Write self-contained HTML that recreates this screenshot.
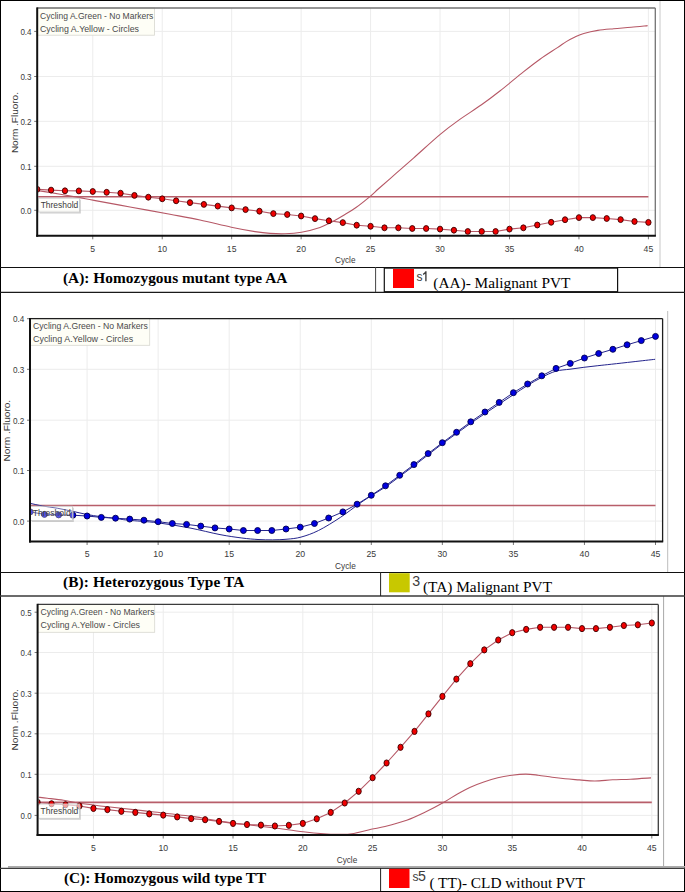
<!DOCTYPE html>
<html><head><meta charset="utf-8"><title>qPCR amplification curves</title>
<style>html,body{margin:0;padding:0;background:#fff;}body{width:685px;height:892px;overflow:hidden;font-family:"Liberation Sans",sans-serif;}svg{display:block;}</style>
</head><body>
<svg width="685" height="892" viewBox="0 0 685 892" font-family="Liberation Sans, sans-serif">
<clipPath id="ca"><rect x="38.2" y="8" width="617.0999999999999" height="226.8"/></clipPath>
<line x1="660" y1="1" x2="660" y2="267" stroke="#c8c8c8" stroke-width="1"/>
<line x1="92.76" y1="8" x2="92.76" y2="235.8" stroke="#ececec" stroke-width="1"/>
<line x1="162.22" y1="8" x2="162.22" y2="235.8" stroke="#ececec" stroke-width="1"/>
<line x1="231.67" y1="8" x2="231.67" y2="235.8" stroke="#ececec" stroke-width="1"/>
<line x1="301.13" y1="8" x2="301.13" y2="235.8" stroke="#ececec" stroke-width="1"/>
<line x1="370.58" y1="8" x2="370.58" y2="235.8" stroke="#ececec" stroke-width="1"/>
<line x1="440.04" y1="8" x2="440.04" y2="235.8" stroke="#ececec" stroke-width="1"/>
<line x1="509.49" y1="8" x2="509.49" y2="235.8" stroke="#ececec" stroke-width="1"/>
<line x1="578.95" y1="8" x2="578.95" y2="235.8" stroke="#ececec" stroke-width="1"/>
<line x1="648.40" y1="8" x2="648.40" y2="235.8" stroke="#ececec" stroke-width="1"/>
<line x1="37.2" y1="210.30" x2="655.3" y2="210.30" stroke="#ececec" stroke-width="1"/>
<line x1="37.2" y1="166.30" x2="655.3" y2="166.30" stroke="#ececec" stroke-width="1"/>
<line x1="37.2" y1="121.35" x2="655.3" y2="121.35" stroke="#ececec" stroke-width="1"/>
<line x1="37.2" y1="76.50" x2="655.3" y2="76.50" stroke="#ececec" stroke-width="1"/>
<line x1="37.2" y1="31.40" x2="655.3" y2="31.40" stroke="#ececec" stroke-width="1"/>
<line x1="34.2" y1="210.30" x2="37.2" y2="210.30" stroke="#777" stroke-width="1"/>
<text x="31.6" y="213.70" text-anchor="end" font-size="9.9" textLength="11.2" lengthAdjust="spacingAndGlyphs" fill="#3a3a3a">0.0</text>
<line x1="34.2" y1="166.30" x2="37.2" y2="166.30" stroke="#777" stroke-width="1"/>
<text x="31.6" y="169.70" text-anchor="end" font-size="9.9" textLength="11.2" lengthAdjust="spacingAndGlyphs" fill="#3a3a3a">0.1</text>
<line x1="34.2" y1="121.35" x2="37.2" y2="121.35" stroke="#777" stroke-width="1"/>
<text x="31.6" y="124.75" text-anchor="end" font-size="9.9" textLength="11.2" lengthAdjust="spacingAndGlyphs" fill="#3a3a3a">0.2</text>
<line x1="34.2" y1="76.50" x2="37.2" y2="76.50" stroke="#777" stroke-width="1"/>
<text x="31.6" y="79.90" text-anchor="end" font-size="9.9" textLength="11.2" lengthAdjust="spacingAndGlyphs" fill="#3a3a3a">0.3</text>
<line x1="34.2" y1="31.40" x2="37.2" y2="31.40" stroke="#777" stroke-width="1"/>
<text x="31.6" y="34.80" text-anchor="end" font-size="9.9" textLength="11.2" lengthAdjust="spacingAndGlyphs" fill="#3a3a3a">0.4</text>
<line x1="92.76" y1="235.8" x2="92.76" y2="239.3" stroke="#777" stroke-width="1"/>
<text x="92.76" y="252.2" text-anchor="middle" font-size="9.9" textLength="4.80" lengthAdjust="spacingAndGlyphs" fill="#3a3a3a">5</text>
<line x1="162.22" y1="235.8" x2="162.22" y2="239.3" stroke="#777" stroke-width="1"/>
<text x="162.22" y="252.2" text-anchor="middle" font-size="9.9" textLength="9.60" lengthAdjust="spacingAndGlyphs" fill="#3a3a3a">10</text>
<line x1="231.67" y1="235.8" x2="231.67" y2="239.3" stroke="#777" stroke-width="1"/>
<text x="231.67" y="252.2" text-anchor="middle" font-size="9.9" textLength="9.60" lengthAdjust="spacingAndGlyphs" fill="#3a3a3a">15</text>
<line x1="301.13" y1="235.8" x2="301.13" y2="239.3" stroke="#777" stroke-width="1"/>
<text x="301.13" y="252.2" text-anchor="middle" font-size="9.9" textLength="9.60" lengthAdjust="spacingAndGlyphs" fill="#3a3a3a">20</text>
<line x1="370.58" y1="235.8" x2="370.58" y2="239.3" stroke="#777" stroke-width="1"/>
<text x="370.58" y="252.2" text-anchor="middle" font-size="9.9" textLength="9.60" lengthAdjust="spacingAndGlyphs" fill="#3a3a3a">25</text>
<line x1="440.04" y1="235.8" x2="440.04" y2="239.3" stroke="#777" stroke-width="1"/>
<text x="440.04" y="252.2" text-anchor="middle" font-size="9.9" textLength="9.60" lengthAdjust="spacingAndGlyphs" fill="#3a3a3a">30</text>
<line x1="509.49" y1="235.8" x2="509.49" y2="239.3" stroke="#777" stroke-width="1"/>
<text x="509.49" y="252.2" text-anchor="middle" font-size="9.9" textLength="9.60" lengthAdjust="spacingAndGlyphs" fill="#3a3a3a">35</text>
<line x1="578.95" y1="235.8" x2="578.95" y2="239.3" stroke="#777" stroke-width="1"/>
<text x="578.95" y="252.2" text-anchor="middle" font-size="9.9" textLength="9.60" lengthAdjust="spacingAndGlyphs" fill="#3a3a3a">40</text>
<line x1="648.40" y1="235.8" x2="648.40" y2="239.3" stroke="#777" stroke-width="1"/>
<text x="648.40" y="252.2" text-anchor="middle" font-size="9.9" textLength="9.60" lengthAdjust="spacingAndGlyphs" fill="#3a3a3a">45</text>
<text x="335" y="263.3" font-size="9.9" textLength="20.50" lengthAdjust="spacingAndGlyphs" fill="#3a3a3a">Cycle</text>
<text transform="translate(18.1,122.6) rotate(-90)" text-anchor="middle" font-size="9.6" textLength="61.00" lengthAdjust="spacingAndGlyphs" fill="#3a3a3a">Norm .Fluoro.</text>
<g clip-path="url(#ca)">
<line x1="37.2" y1="196.8" x2="648.40" y2="196.8" stroke="#b85e6a" stroke-width="1.6"/>
<path d="M37.50,190.50 C41.30,191.12 53.30,193.02 60.30,194.20 C67.30,195.38 73.88,196.57 79.50,197.60 C85.12,198.63 85.58,198.83 94.00,200.40 C102.42,201.97 117.33,204.68 130.00,207.00 C142.67,209.32 158.33,212.13 170.00,214.30 C181.67,216.47 189.78,217.85 200.00,220.00 C210.22,222.15 222.13,225.27 231.30,227.20 C240.47,229.13 248.55,230.57 255.00,231.60 C261.45,232.63 265.00,233.03 270.00,233.40 C275.00,233.77 279.77,234.00 285.00,233.80 C290.23,233.60 295.57,233.27 301.40,232.20 C307.23,231.13 314.92,229.12 320.00,227.40 C325.08,225.68 327.73,224.05 331.90,221.90 C336.07,219.75 340.98,216.90 345.00,214.50 C349.02,212.10 351.80,210.53 356.00,207.50 C360.20,204.47 366.40,199.47 370.20,196.30 C374.00,193.13 374.45,192.35 378.80,188.50 C383.15,184.65 390.47,178.32 396.30,173.20 C402.13,168.08 406.53,164.23 413.80,157.80 C421.07,151.37 432.52,140.80 439.90,134.60 C447.28,128.40 451.17,125.57 458.10,120.60 C465.03,115.63 474.48,109.77 481.50,104.80 C488.52,99.83 493.22,96.28 500.20,90.80 C507.18,85.32 516.77,77.17 523.40,71.90 C530.03,66.63 534.32,63.25 540.00,59.20 C545.68,55.15 553.12,50.53 557.50,47.60 C561.88,44.67 563.38,43.37 566.30,41.60 C569.22,39.83 572.08,38.35 575.00,37.00 C577.92,35.65 580.00,34.60 583.80,33.50 C587.60,32.40 592.83,31.20 597.80,30.40 C602.77,29.60 608.05,29.22 613.60,28.70 C619.15,28.18 625.43,27.82 631.10,27.30 C636.77,26.78 644.85,25.88 647.60,25.60" fill="none" stroke="#b65866" stroke-width="1.1" stroke-linejoin="round"/>
<path d="M37.20,189.30 L51.09,190.10 L64.98,190.80 L78.87,190.90 L92.76,191.50 L106.65,192.30 L120.55,193.20 L134.44,195.40 L148.33,197.20 L162.22,198.80 L176.11,200.80 L190.00,202.60 L203.89,204.40 L217.78,206.10 L231.67,207.90 L245.56,209.60 L259.45,211.20 L273.35,213.60 L287.24,214.50 L301.13,216.00 L315.02,218.60 L328.91,220.80 L342.80,222.60 L356.69,225.20 L370.58,226.30 L384.47,227.80 L398.36,227.80 L412.25,228.50 L426.15,228.50 L440.04,229.10 L453.93,230.20 L467.82,231.50 L481.71,231.50 L495.60,231.50 L509.49,229.10 L523.38,227.80 L537.27,225.00 L551.16,222.30 L565.05,219.70 L578.95,217.60 L592.84,217.60 L606.73,218.50 L620.62,219.60 L634.51,221.50 L648.40,222.40" fill="none" stroke="#b65866" stroke-width="1.1" stroke-linejoin="round"/>
<ellipse cx="37.20" cy="189.30" rx="2.65" ry="2.95" fill="#f00000" stroke="#3a0000" stroke-width="0.9"/>
<ellipse cx="51.09" cy="190.10" rx="2.65" ry="2.95" fill="#f00000" stroke="#3a0000" stroke-width="0.9"/>
<ellipse cx="64.98" cy="190.80" rx="2.65" ry="2.95" fill="#f00000" stroke="#3a0000" stroke-width="0.9"/>
<ellipse cx="78.87" cy="190.90" rx="2.65" ry="2.95" fill="#f00000" stroke="#3a0000" stroke-width="0.9"/>
<ellipse cx="92.76" cy="191.50" rx="2.65" ry="2.95" fill="#f00000" stroke="#3a0000" stroke-width="0.9"/>
<ellipse cx="106.65" cy="192.30" rx="2.65" ry="2.95" fill="#f00000" stroke="#3a0000" stroke-width="0.9"/>
<ellipse cx="120.55" cy="193.20" rx="2.65" ry="2.95" fill="#f00000" stroke="#3a0000" stroke-width="0.9"/>
<ellipse cx="134.44" cy="195.40" rx="2.65" ry="2.95" fill="#f00000" stroke="#3a0000" stroke-width="0.9"/>
<ellipse cx="148.33" cy="197.20" rx="2.65" ry="2.95" fill="#f00000" stroke="#3a0000" stroke-width="0.9"/>
<ellipse cx="162.22" cy="198.80" rx="2.65" ry="2.95" fill="#f00000" stroke="#3a0000" stroke-width="0.9"/>
<ellipse cx="176.11" cy="200.80" rx="2.65" ry="2.95" fill="#f00000" stroke="#3a0000" stroke-width="0.9"/>
<ellipse cx="190.00" cy="202.60" rx="2.65" ry="2.95" fill="#f00000" stroke="#3a0000" stroke-width="0.9"/>
<ellipse cx="203.89" cy="204.40" rx="2.65" ry="2.95" fill="#f00000" stroke="#3a0000" stroke-width="0.9"/>
<ellipse cx="217.78" cy="206.10" rx="2.65" ry="2.95" fill="#f00000" stroke="#3a0000" stroke-width="0.9"/>
<ellipse cx="231.67" cy="207.90" rx="2.65" ry="2.95" fill="#f00000" stroke="#3a0000" stroke-width="0.9"/>
<ellipse cx="245.56" cy="209.60" rx="2.65" ry="2.95" fill="#f00000" stroke="#3a0000" stroke-width="0.9"/>
<ellipse cx="259.45" cy="211.20" rx="2.65" ry="2.95" fill="#f00000" stroke="#3a0000" stroke-width="0.9"/>
<ellipse cx="273.35" cy="213.60" rx="2.65" ry="2.95" fill="#f00000" stroke="#3a0000" stroke-width="0.9"/>
<ellipse cx="287.24" cy="214.50" rx="2.65" ry="2.95" fill="#f00000" stroke="#3a0000" stroke-width="0.9"/>
<ellipse cx="301.13" cy="216.00" rx="2.65" ry="2.95" fill="#f00000" stroke="#3a0000" stroke-width="0.9"/>
<ellipse cx="315.02" cy="218.60" rx="2.65" ry="2.95" fill="#f00000" stroke="#3a0000" stroke-width="0.9"/>
<ellipse cx="328.91" cy="220.80" rx="2.65" ry="2.95" fill="#f00000" stroke="#3a0000" stroke-width="0.9"/>
<ellipse cx="342.80" cy="222.60" rx="2.65" ry="2.95" fill="#f00000" stroke="#3a0000" stroke-width="0.9"/>
<ellipse cx="356.69" cy="225.20" rx="2.65" ry="2.95" fill="#f00000" stroke="#3a0000" stroke-width="0.9"/>
<ellipse cx="370.58" cy="226.30" rx="2.65" ry="2.95" fill="#f00000" stroke="#3a0000" stroke-width="0.9"/>
<ellipse cx="384.47" cy="227.80" rx="2.65" ry="2.95" fill="#f00000" stroke="#3a0000" stroke-width="0.9"/>
<ellipse cx="398.36" cy="227.80" rx="2.65" ry="2.95" fill="#f00000" stroke="#3a0000" stroke-width="0.9"/>
<ellipse cx="412.25" cy="228.50" rx="2.65" ry="2.95" fill="#f00000" stroke="#3a0000" stroke-width="0.9"/>
<ellipse cx="426.15" cy="228.50" rx="2.65" ry="2.95" fill="#f00000" stroke="#3a0000" stroke-width="0.9"/>
<ellipse cx="440.04" cy="229.10" rx="2.65" ry="2.95" fill="#f00000" stroke="#3a0000" stroke-width="0.9"/>
<ellipse cx="453.93" cy="230.20" rx="2.65" ry="2.95" fill="#f00000" stroke="#3a0000" stroke-width="0.9"/>
<ellipse cx="467.82" cy="231.50" rx="2.65" ry="2.95" fill="#f00000" stroke="#3a0000" stroke-width="0.9"/>
<ellipse cx="481.71" cy="231.50" rx="2.65" ry="2.95" fill="#f00000" stroke="#3a0000" stroke-width="0.9"/>
<ellipse cx="495.60" cy="231.50" rx="2.65" ry="2.95" fill="#f00000" stroke="#3a0000" stroke-width="0.9"/>
<ellipse cx="509.49" cy="229.10" rx="2.65" ry="2.95" fill="#f00000" stroke="#3a0000" stroke-width="0.9"/>
<ellipse cx="523.38" cy="227.80" rx="2.65" ry="2.95" fill="#f00000" stroke="#3a0000" stroke-width="0.9"/>
<ellipse cx="537.27" cy="225.00" rx="2.65" ry="2.95" fill="#f00000" stroke="#3a0000" stroke-width="0.9"/>
<ellipse cx="551.16" cy="222.30" rx="2.65" ry="2.95" fill="#f00000" stroke="#3a0000" stroke-width="0.9"/>
<ellipse cx="565.05" cy="219.70" rx="2.65" ry="2.95" fill="#f00000" stroke="#3a0000" stroke-width="0.9"/>
<ellipse cx="578.95" cy="217.60" rx="2.65" ry="2.95" fill="#f00000" stroke="#3a0000" stroke-width="0.9"/>
<ellipse cx="592.84" cy="217.60" rx="2.65" ry="2.95" fill="#f00000" stroke="#3a0000" stroke-width="0.9"/>
<ellipse cx="606.73" cy="218.50" rx="2.65" ry="2.95" fill="#f00000" stroke="#3a0000" stroke-width="0.9"/>
<ellipse cx="620.62" cy="219.60" rx="2.65" ry="2.95" fill="#f00000" stroke="#3a0000" stroke-width="0.9"/>
<ellipse cx="634.51" cy="221.50" rx="2.65" ry="2.95" fill="#f00000" stroke="#3a0000" stroke-width="0.9"/>
<ellipse cx="648.40" cy="222.40" rx="2.65" ry="2.95" fill="#f00000" stroke="#3a0000" stroke-width="0.9"/>
<path d="M79.50,199.70 h1.3 v13.80 h-41.00 v-1.3 h39.70 z" fill="#b8b8b8" opacity="0.7"/>
<rect x="38.5" y="198.2" width="41.0" height="13.800000000000011" fill="#fffffa" fill-opacity="0.62" stroke="#c8c8c8" stroke-width="0.8"/>
<text x="40.7" y="207.8" font-size="9.9" textLength="37.60" lengthAdjust="spacingAndGlyphs" fill="#3a3a3a">Threshold</text>
</g>
<rect x="37" y="8" width="117.5" height="27.200000000000003" fill="#fefef6" stroke="#d8d8d0" stroke-width="0.8"/>
<text x="40" y="19" font-size="9.9" textLength="113.40" lengthAdjust="spacingAndGlyphs" fill="#4a4a4a">Cycling A.Green - No Markers</text>
<text x="40" y="31.8" font-size="9.9" textLength="99.00" lengthAdjust="spacingAndGlyphs" fill="#4a4a4a">Cycling A.Yellow - Circles</text>
<line x1="37.2" y1="8" x2="655.3" y2="8" stroke="#727272" stroke-width="1.3"/>
<line x1="655.3" y1="8" x2="655.3" y2="235.8" stroke="#727272" stroke-width="1.3"/>
<line x1="37.2" y1="7.4" x2="37.2" y2="236.8" stroke="#111" stroke-width="2"/>
<line x1="36.2" y1="235.8" x2="655.9" y2="235.8" stroke="#111" stroke-width="2"/>
<clipPath id="cb"><rect x="31" y="318.6" width="631.6" height="221.89999999999998"/></clipPath>
<line x1="667.7" y1="311" x2="667.7" y2="572" stroke="#bdbdbd" stroke-width="1"/>
<line x1="87.09" y1="318.6" x2="87.09" y2="541.5" stroke="#ececec" stroke-width="1"/>
<line x1="158.14" y1="318.6" x2="158.14" y2="541.5" stroke="#ececec" stroke-width="1"/>
<line x1="229.19" y1="318.6" x2="229.19" y2="541.5" stroke="#ececec" stroke-width="1"/>
<line x1="300.24" y1="318.6" x2="300.24" y2="541.5" stroke="#ececec" stroke-width="1"/>
<line x1="371.30" y1="318.6" x2="371.30" y2="541.5" stroke="#ececec" stroke-width="1"/>
<line x1="442.35" y1="318.6" x2="442.35" y2="541.5" stroke="#ececec" stroke-width="1"/>
<line x1="513.40" y1="318.6" x2="513.40" y2="541.5" stroke="#ececec" stroke-width="1"/>
<line x1="584.45" y1="318.6" x2="584.45" y2="541.5" stroke="#ececec" stroke-width="1"/>
<line x1="655.50" y1="318.6" x2="655.50" y2="541.5" stroke="#ececec" stroke-width="1"/>
<line x1="30" y1="521.10" x2="662.6" y2="521.10" stroke="#ececec" stroke-width="1"/>
<line x1="30" y1="470.50" x2="662.6" y2="470.50" stroke="#ececec" stroke-width="1"/>
<line x1="30" y1="420.20" x2="662.6" y2="420.20" stroke="#ececec" stroke-width="1"/>
<line x1="30" y1="369.30" x2="662.6" y2="369.30" stroke="#ececec" stroke-width="1"/>
<line x1="30" y1="318.70" x2="662.6" y2="318.70" stroke="#ececec" stroke-width="1"/>
<line x1="27" y1="521.10" x2="30" y2="521.10" stroke="#777" stroke-width="1"/>
<text x="24.3" y="524.50" text-anchor="end" font-size="9.9" textLength="11.4" lengthAdjust="spacingAndGlyphs" fill="#3a3a3a">0.0</text>
<line x1="27" y1="470.50" x2="30" y2="470.50" stroke="#777" stroke-width="1"/>
<text x="24.3" y="473.90" text-anchor="end" font-size="9.9" textLength="11.4" lengthAdjust="spacingAndGlyphs" fill="#3a3a3a">0.1</text>
<line x1="27" y1="420.20" x2="30" y2="420.20" stroke="#777" stroke-width="1"/>
<text x="24.3" y="423.60" text-anchor="end" font-size="9.9" textLength="11.4" lengthAdjust="spacingAndGlyphs" fill="#3a3a3a">0.2</text>
<line x1="27" y1="369.30" x2="30" y2="369.30" stroke="#777" stroke-width="1"/>
<text x="24.3" y="372.70" text-anchor="end" font-size="9.9" textLength="11.4" lengthAdjust="spacingAndGlyphs" fill="#3a3a3a">0.3</text>
<line x1="27" y1="318.70" x2="30" y2="318.70" stroke="#777" stroke-width="1"/>
<text x="24.3" y="322.10" text-anchor="end" font-size="9.9" textLength="11.4" lengthAdjust="spacingAndGlyphs" fill="#3a3a3a">0.4</text>
<line x1="87.09" y1="541.5" x2="87.09" y2="545.0" stroke="#777" stroke-width="1"/>
<text x="87.09" y="557.2" text-anchor="middle" font-size="9.9" textLength="4.86" lengthAdjust="spacingAndGlyphs" fill="#3a3a3a">5</text>
<line x1="158.14" y1="541.5" x2="158.14" y2="545.0" stroke="#777" stroke-width="1"/>
<text x="158.14" y="557.2" text-anchor="middle" font-size="9.9" textLength="9.72" lengthAdjust="spacingAndGlyphs" fill="#3a3a3a">10</text>
<line x1="229.19" y1="541.5" x2="229.19" y2="545.0" stroke="#777" stroke-width="1"/>
<text x="229.19" y="557.2" text-anchor="middle" font-size="9.9" textLength="9.72" lengthAdjust="spacingAndGlyphs" fill="#3a3a3a">15</text>
<line x1="300.24" y1="541.5" x2="300.24" y2="545.0" stroke="#777" stroke-width="1"/>
<text x="300.24" y="557.2" text-anchor="middle" font-size="9.9" textLength="9.72" lengthAdjust="spacingAndGlyphs" fill="#3a3a3a">20</text>
<line x1="371.30" y1="541.5" x2="371.30" y2="545.0" stroke="#777" stroke-width="1"/>
<text x="371.30" y="557.2" text-anchor="middle" font-size="9.9" textLength="9.72" lengthAdjust="spacingAndGlyphs" fill="#3a3a3a">25</text>
<line x1="442.35" y1="541.5" x2="442.35" y2="545.0" stroke="#777" stroke-width="1"/>
<text x="442.35" y="557.2" text-anchor="middle" font-size="9.9" textLength="9.72" lengthAdjust="spacingAndGlyphs" fill="#3a3a3a">30</text>
<line x1="513.40" y1="541.5" x2="513.40" y2="545.0" stroke="#777" stroke-width="1"/>
<text x="513.40" y="557.2" text-anchor="middle" font-size="9.9" textLength="9.72" lengthAdjust="spacingAndGlyphs" fill="#3a3a3a">35</text>
<line x1="584.45" y1="541.5" x2="584.45" y2="545.0" stroke="#777" stroke-width="1"/>
<text x="584.45" y="557.2" text-anchor="middle" font-size="9.9" textLength="9.72" lengthAdjust="spacingAndGlyphs" fill="#3a3a3a">40</text>
<line x1="655.50" y1="541.5" x2="655.50" y2="545.0" stroke="#777" stroke-width="1"/>
<text x="655.50" y="557.2" text-anchor="middle" font-size="9.9" textLength="9.72" lengthAdjust="spacingAndGlyphs" fill="#3a3a3a">45</text>
<text x="335" y="568.6" font-size="9.9" textLength="20.75" lengthAdjust="spacingAndGlyphs" fill="#3a3a3a">Cycle</text>
<text transform="translate(10.0,430.7) rotate(-90)" text-anchor="middle" font-size="9.6" textLength="61.73" lengthAdjust="spacingAndGlyphs" fill="#3a3a3a">Norm .Fluoro.</text>
<g clip-path="url(#cb)">
<line x1="30" y1="505.5" x2="655.50" y2="505.5" stroke="#b85e6a" stroke-width="1.6"/>
<path d="M30.90,503.50 C32.85,503.92 38.22,505.22 42.60,506.00 C46.98,506.78 52.33,507.35 57.20,508.20 C62.07,509.05 66.93,510.07 71.80,511.10 C76.67,512.13 81.53,513.47 86.40,514.40 C91.27,515.33 96.13,516.03 101.00,516.70 C105.87,517.37 111.10,517.82 115.60,518.40 C120.10,518.98 120.98,519.47 128.00,520.20 C135.02,520.93 147.37,521.50 157.70,522.80 C168.03,524.10 179.62,526.03 190.00,528.00 C200.38,529.97 211.35,532.93 220.00,534.60 C228.65,536.27 235.57,537.18 241.90,538.00 C248.23,538.82 252.88,539.18 258.00,539.50 C263.12,539.82 267.77,539.95 272.60,539.90 C277.43,539.85 282.27,539.67 287.00,539.20 C291.73,538.73 295.75,538.55 301.00,537.10 C306.25,535.65 311.93,533.78 318.50,530.50 C325.07,527.22 333.47,521.97 340.40,517.40 C347.33,512.83 354.75,506.83 360.10,503.10 C365.45,499.37 368.18,497.75 372.50,495.00 C376.82,492.25 381.42,489.73 386.00,486.60 C390.58,483.47 395.25,479.73 400.00,476.20 C404.75,472.67 409.75,469.02 414.50,465.40 C419.25,461.78 423.82,458.15 428.50,454.50 C433.18,450.85 437.85,447.05 442.60,443.50 C447.35,439.95 452.22,436.65 457.00,433.20 C461.78,429.75 466.50,426.17 471.30,422.80 C476.10,419.43 481.02,416.22 485.80,413.00 C490.58,409.78 495.35,406.58 500.00,403.50 C504.65,400.42 509.15,397.48 513.70,394.50 C518.25,391.52 522.67,388.43 527.30,385.60 C531.93,382.77 536.75,379.90 541.50,377.50 C546.25,375.10 551.05,372.58 555.80,371.20 C560.55,369.82 565.32,369.85 570.00,369.20 C574.68,368.55 579.27,367.88 583.90,367.30 C588.53,366.72 593.17,366.22 597.80,365.70 C602.43,365.18 605.83,364.85 611.70,364.20 C617.57,363.55 625.77,362.62 633.00,361.80 C640.23,360.98 651.42,359.72 655.10,359.30" fill="none" stroke="#24248c" stroke-width="1.0" stroke-linejoin="round"/>
<path d="M30.25,511.90 L44.46,514.40 L58.67,514.90 L72.88,515.20 L87.09,516.00 L101.30,517.40 L115.51,518.20 L129.72,519.10 L143.93,520.20 L158.14,521.70 L172.35,523.50 L186.56,524.40 L200.77,526.10 L214.98,527.90 L229.19,529.00 L243.40,530.50 L257.61,530.50 L271.82,530.50 L286.03,529.00 L300.24,527.20 L314.45,523.50 L328.66,518.00 L342.88,511.90 L357.09,504.20 L371.30,495.30 L385.51,485.80 L399.72,475.30 L413.93,464.60 L428.14,453.60 L442.35,442.70 L456.56,432.30 L470.77,421.80 L484.98,412.00 L499.19,402.40 L513.40,392.70 L527.61,384.00 L541.82,375.80 L556.03,368.40 L570.24,363.40 L584.45,358.00 L598.66,353.50 L612.87,349.30 L627.08,344.80 L641.29,340.60 L655.50,336.40" fill="none" stroke="#24248c" stroke-width="1.0" stroke-linejoin="round"/>
<ellipse cx="30.25" cy="511.90" rx="2.95" ry="3.0" fill="#0000e0" stroke="#000050" stroke-width="0.9"/>
<ellipse cx="44.46" cy="514.40" rx="2.95" ry="3.0" fill="#0000e0" stroke="#000050" stroke-width="0.9"/>
<ellipse cx="58.67" cy="514.90" rx="2.95" ry="3.0" fill="#0000e0" stroke="#000050" stroke-width="0.9"/>
<ellipse cx="72.88" cy="515.20" rx="2.95" ry="3.0" fill="#0000e0" stroke="#000050" stroke-width="0.9"/>
<ellipse cx="87.09" cy="516.00" rx="2.95" ry="3.0" fill="#0000e0" stroke="#000050" stroke-width="0.9"/>
<ellipse cx="101.30" cy="517.40" rx="2.95" ry="3.0" fill="#0000e0" stroke="#000050" stroke-width="0.9"/>
<ellipse cx="115.51" cy="518.20" rx="2.95" ry="3.0" fill="#0000e0" stroke="#000050" stroke-width="0.9"/>
<ellipse cx="129.72" cy="519.10" rx="2.95" ry="3.0" fill="#0000e0" stroke="#000050" stroke-width="0.9"/>
<ellipse cx="143.93" cy="520.20" rx="2.95" ry="3.0" fill="#0000e0" stroke="#000050" stroke-width="0.9"/>
<ellipse cx="158.14" cy="521.70" rx="2.95" ry="3.0" fill="#0000e0" stroke="#000050" stroke-width="0.9"/>
<ellipse cx="172.35" cy="523.50" rx="2.95" ry="3.0" fill="#0000e0" stroke="#000050" stroke-width="0.9"/>
<ellipse cx="186.56" cy="524.40" rx="2.95" ry="3.0" fill="#0000e0" stroke="#000050" stroke-width="0.9"/>
<ellipse cx="200.77" cy="526.10" rx="2.95" ry="3.0" fill="#0000e0" stroke="#000050" stroke-width="0.9"/>
<ellipse cx="214.98" cy="527.90" rx="2.95" ry="3.0" fill="#0000e0" stroke="#000050" stroke-width="0.9"/>
<ellipse cx="229.19" cy="529.00" rx="2.95" ry="3.0" fill="#0000e0" stroke="#000050" stroke-width="0.9"/>
<ellipse cx="243.40" cy="530.50" rx="2.95" ry="3.0" fill="#0000e0" stroke="#000050" stroke-width="0.9"/>
<ellipse cx="257.61" cy="530.50" rx="2.95" ry="3.0" fill="#0000e0" stroke="#000050" stroke-width="0.9"/>
<ellipse cx="271.82" cy="530.50" rx="2.95" ry="3.0" fill="#0000e0" stroke="#000050" stroke-width="0.9"/>
<ellipse cx="286.03" cy="529.00" rx="2.95" ry="3.0" fill="#0000e0" stroke="#000050" stroke-width="0.9"/>
<ellipse cx="300.24" cy="527.20" rx="2.95" ry="3.0" fill="#0000e0" stroke="#000050" stroke-width="0.9"/>
<ellipse cx="314.45" cy="523.50" rx="2.95" ry="3.0" fill="#0000e0" stroke="#000050" stroke-width="0.9"/>
<ellipse cx="328.66" cy="518.00" rx="2.95" ry="3.0" fill="#0000e0" stroke="#000050" stroke-width="0.9"/>
<ellipse cx="342.88" cy="511.90" rx="2.95" ry="3.0" fill="#0000e0" stroke="#000050" stroke-width="0.9"/>
<ellipse cx="357.09" cy="504.20" rx="2.95" ry="3.0" fill="#0000e0" stroke="#000050" stroke-width="0.9"/>
<ellipse cx="371.30" cy="495.30" rx="2.95" ry="3.0" fill="#0000e0" stroke="#000050" stroke-width="0.9"/>
<ellipse cx="385.51" cy="485.80" rx="2.95" ry="3.0" fill="#0000e0" stroke="#000050" stroke-width="0.9"/>
<ellipse cx="399.72" cy="475.30" rx="2.95" ry="3.0" fill="#0000e0" stroke="#000050" stroke-width="0.9"/>
<ellipse cx="413.93" cy="464.60" rx="2.95" ry="3.0" fill="#0000e0" stroke="#000050" stroke-width="0.9"/>
<ellipse cx="428.14" cy="453.60" rx="2.95" ry="3.0" fill="#0000e0" stroke="#000050" stroke-width="0.9"/>
<ellipse cx="442.35" cy="442.70" rx="2.95" ry="3.0" fill="#0000e0" stroke="#000050" stroke-width="0.9"/>
<ellipse cx="456.56" cy="432.30" rx="2.95" ry="3.0" fill="#0000e0" stroke="#000050" stroke-width="0.9"/>
<ellipse cx="470.77" cy="421.80" rx="2.95" ry="3.0" fill="#0000e0" stroke="#000050" stroke-width="0.9"/>
<ellipse cx="484.98" cy="412.00" rx="2.95" ry="3.0" fill="#0000e0" stroke="#000050" stroke-width="0.9"/>
<ellipse cx="499.19" cy="402.40" rx="2.95" ry="3.0" fill="#0000e0" stroke="#000050" stroke-width="0.9"/>
<ellipse cx="513.40" cy="392.70" rx="2.95" ry="3.0" fill="#0000e0" stroke="#000050" stroke-width="0.9"/>
<ellipse cx="527.61" cy="384.00" rx="2.95" ry="3.0" fill="#0000e0" stroke="#000050" stroke-width="0.9"/>
<ellipse cx="541.82" cy="375.80" rx="2.95" ry="3.0" fill="#0000e0" stroke="#000050" stroke-width="0.9"/>
<ellipse cx="556.03" cy="368.40" rx="2.95" ry="3.0" fill="#0000e0" stroke="#000050" stroke-width="0.9"/>
<ellipse cx="570.24" cy="363.40" rx="2.95" ry="3.0" fill="#0000e0" stroke="#000050" stroke-width="0.9"/>
<ellipse cx="584.45" cy="358.00" rx="2.95" ry="3.0" fill="#0000e0" stroke="#000050" stroke-width="0.9"/>
<ellipse cx="598.66" cy="353.50" rx="2.95" ry="3.0" fill="#0000e0" stroke="#000050" stroke-width="0.9"/>
<ellipse cx="612.87" cy="349.30" rx="2.95" ry="3.0" fill="#0000e0" stroke="#000050" stroke-width="0.9"/>
<ellipse cx="627.08" cy="344.80" rx="2.95" ry="3.0" fill="#0000e0" stroke="#000050" stroke-width="0.9"/>
<ellipse cx="641.29" cy="340.60" rx="2.95" ry="3.0" fill="#0000e0" stroke="#000050" stroke-width="0.9"/>
<ellipse cx="655.50" cy="336.40" rx="2.95" ry="3.0" fill="#0000e0" stroke="#000050" stroke-width="0.9"/>
<path d="M72.50,507.70 h1.3 v14.30 h-42.00 v-1.3 h40.70 z" fill="#b8b8b8" opacity="0.7"/>
<rect x="30.5" y="506.2" width="42.0" height="14.300000000000011" fill="#fffffa" fill-opacity="0.32" stroke="#c8c8c8" stroke-width="0.8"/>
<text x="32.7" y="516.3" font-size="9.9" textLength="38.05" lengthAdjust="spacingAndGlyphs" fill="#3a3a3a">Threshold</text>
</g>
<rect x="30" y="318.3" width="119.69999999999999" height="27.0" fill="#fefef6" stroke="#d8d8d0" stroke-width="0.8"/>
<text x="33" y="329.3" font-size="9.9" textLength="114.76" lengthAdjust="spacingAndGlyphs" fill="#4a4a4a">Cycling A.Green - No Markers</text>
<text x="33" y="342.1" font-size="9.9" textLength="100.19" lengthAdjust="spacingAndGlyphs" fill="#4a4a4a">Cycling A.Yellow - Circles</text>
<line x1="30" y1="318.6" x2="662.6" y2="318.6" stroke="#1e1e1e" stroke-width="1.3"/>
<line x1="662.6" y1="318.6" x2="662.6" y2="541.5" stroke="#1e1e1e" stroke-width="1.3"/>
<line x1="30" y1="318.0" x2="30" y2="542.5" stroke="#111" stroke-width="2"/>
<line x1="29" y1="541.5" x2="663.2" y2="541.5" stroke="#111" stroke-width="2"/>
<clipPath id="cc"><rect x="38.6" y="604.4" width="619.6999999999999" height="229.60000000000002"/></clipPath>
<line x1="663.6" y1="596" x2="663.6" y2="867" stroke="#a8a8a8" stroke-width="1"/>
<line x1="93.44" y1="604.4" x2="93.44" y2="835.0" stroke="#ececec" stroke-width="1"/>
<line x1="163.23" y1="604.4" x2="163.23" y2="835.0" stroke="#ececec" stroke-width="1"/>
<line x1="233.03" y1="604.4" x2="233.03" y2="835.0" stroke="#ececec" stroke-width="1"/>
<line x1="302.82" y1="604.4" x2="302.82" y2="835.0" stroke="#ececec" stroke-width="1"/>
<line x1="372.62" y1="604.4" x2="372.62" y2="835.0" stroke="#ececec" stroke-width="1"/>
<line x1="442.41" y1="604.4" x2="442.41" y2="835.0" stroke="#ececec" stroke-width="1"/>
<line x1="512.21" y1="604.4" x2="512.21" y2="835.0" stroke="#ececec" stroke-width="1"/>
<line x1="582.00" y1="604.4" x2="582.00" y2="835.0" stroke="#ececec" stroke-width="1"/>
<line x1="651.80" y1="604.4" x2="651.80" y2="835.0" stroke="#ececec" stroke-width="1"/>
<line x1="37.6" y1="815.40" x2="658.3" y2="815.40" stroke="#ececec" stroke-width="1"/>
<line x1="37.6" y1="774.30" x2="658.3" y2="774.30" stroke="#ececec" stroke-width="1"/>
<line x1="37.6" y1="733.80" x2="658.3" y2="733.80" stroke="#ececec" stroke-width="1"/>
<line x1="37.6" y1="693.20" x2="658.3" y2="693.20" stroke="#ececec" stroke-width="1"/>
<line x1="37.6" y1="652.50" x2="658.3" y2="652.50" stroke="#ececec" stroke-width="1"/>
<line x1="37.6" y1="612.20" x2="658.3" y2="612.20" stroke="#ececec" stroke-width="1"/>
<line x1="34.6" y1="815.40" x2="37.6" y2="815.40" stroke="#777" stroke-width="1"/>
<text x="31.6" y="818.80" text-anchor="end" font-size="9.9" textLength="11.0" lengthAdjust="spacingAndGlyphs" fill="#3a3a3a">0.0</text>
<line x1="34.6" y1="774.30" x2="37.6" y2="774.30" stroke="#777" stroke-width="1"/>
<text x="31.6" y="777.70" text-anchor="end" font-size="9.9" textLength="11.0" lengthAdjust="spacingAndGlyphs" fill="#3a3a3a">0.1</text>
<line x1="34.6" y1="733.80" x2="37.6" y2="733.80" stroke="#777" stroke-width="1"/>
<text x="31.6" y="737.20" text-anchor="end" font-size="9.9" textLength="11.0" lengthAdjust="spacingAndGlyphs" fill="#3a3a3a">0.2</text>
<line x1="34.6" y1="693.20" x2="37.6" y2="693.20" stroke="#777" stroke-width="1"/>
<text x="31.6" y="696.60" text-anchor="end" font-size="9.9" textLength="11.0" lengthAdjust="spacingAndGlyphs" fill="#3a3a3a">0.3</text>
<line x1="34.6" y1="652.50" x2="37.6" y2="652.50" stroke="#777" stroke-width="1"/>
<text x="31.6" y="655.90" text-anchor="end" font-size="9.9" textLength="11.0" lengthAdjust="spacingAndGlyphs" fill="#3a3a3a">0.4</text>
<line x1="34.6" y1="612.20" x2="37.6" y2="612.20" stroke="#777" stroke-width="1"/>
<text x="31.6" y="615.60" text-anchor="end" font-size="9.9" textLength="11.0" lengthAdjust="spacingAndGlyphs" fill="#3a3a3a">0.5</text>
<line x1="93.44" y1="835.0" x2="93.44" y2="838.5" stroke="#777" stroke-width="1"/>
<text x="93.44" y="851.3" text-anchor="middle" font-size="9.9" textLength="4.82" lengthAdjust="spacingAndGlyphs" fill="#3a3a3a">5</text>
<line x1="163.23" y1="835.0" x2="163.23" y2="838.5" stroke="#777" stroke-width="1"/>
<text x="163.23" y="851.3" text-anchor="middle" font-size="9.9" textLength="9.65" lengthAdjust="spacingAndGlyphs" fill="#3a3a3a">10</text>
<line x1="233.03" y1="835.0" x2="233.03" y2="838.5" stroke="#777" stroke-width="1"/>
<text x="233.03" y="851.3" text-anchor="middle" font-size="9.9" textLength="9.65" lengthAdjust="spacingAndGlyphs" fill="#3a3a3a">15</text>
<line x1="302.82" y1="835.0" x2="302.82" y2="838.5" stroke="#777" stroke-width="1"/>
<text x="302.82" y="851.3" text-anchor="middle" font-size="9.9" textLength="9.65" lengthAdjust="spacingAndGlyphs" fill="#3a3a3a">20</text>
<line x1="372.62" y1="835.0" x2="372.62" y2="838.5" stroke="#777" stroke-width="1"/>
<text x="372.62" y="851.3" text-anchor="middle" font-size="9.9" textLength="9.65" lengthAdjust="spacingAndGlyphs" fill="#3a3a3a">25</text>
<line x1="442.41" y1="835.0" x2="442.41" y2="838.5" stroke="#777" stroke-width="1"/>
<text x="442.41" y="851.3" text-anchor="middle" font-size="9.9" textLength="9.65" lengthAdjust="spacingAndGlyphs" fill="#3a3a3a">30</text>
<line x1="512.21" y1="835.0" x2="512.21" y2="838.5" stroke="#777" stroke-width="1"/>
<text x="512.21" y="851.3" text-anchor="middle" font-size="9.9" textLength="9.65" lengthAdjust="spacingAndGlyphs" fill="#3a3a3a">35</text>
<line x1="582.00" y1="835.0" x2="582.00" y2="838.5" stroke="#777" stroke-width="1"/>
<text x="582.00" y="851.3" text-anchor="middle" font-size="9.9" textLength="9.65" lengthAdjust="spacingAndGlyphs" fill="#3a3a3a">40</text>
<line x1="651.80" y1="835.0" x2="651.80" y2="838.5" stroke="#777" stroke-width="1"/>
<text x="651.80" y="851.3" text-anchor="middle" font-size="9.9" textLength="9.65" lengthAdjust="spacingAndGlyphs" fill="#3a3a3a">45</text>
<text x="336.7" y="863.3" font-size="9.9" textLength="20.60" lengthAdjust="spacingAndGlyphs" fill="#3a3a3a">Cycle</text>
<text transform="translate(17.5,719.8) rotate(-90)" text-anchor="middle" font-size="9.6" textLength="61.30" lengthAdjust="spacingAndGlyphs" fill="#3a3a3a">Norm .Fluoro.</text>
<g clip-path="url(#cc)">
<line x1="37.6" y1="802.4" x2="651.80" y2="802.4" stroke="#b85e6a" stroke-width="1.6"/>
<path d="M38.10,797.20 C39.63,797.37 43.05,797.70 47.30,798.20 C51.55,798.70 58.15,799.37 63.60,800.20 C69.05,801.03 72.27,802.07 80.00,803.20 C87.73,804.33 98.33,805.62 110.00,807.00 C121.67,808.38 136.03,809.90 150.00,811.50 C163.97,813.10 184.07,815.32 193.80,816.60 C203.53,817.88 202.37,818.20 208.40,819.20 C214.43,820.20 222.73,821.60 230.00,822.60 C237.27,823.60 244.55,824.30 252.00,825.20 C259.45,826.10 266.17,826.90 274.70,828.00 C283.23,829.10 295.02,830.83 303.20,831.80 C311.38,832.77 318.08,833.38 323.80,833.80 C329.52,834.22 332.83,834.30 337.50,834.30 C342.17,834.30 346.20,834.63 351.80,833.80 C357.40,832.97 365.57,830.52 371.10,829.30 C376.63,828.08 379.07,828.02 385.00,826.50 C390.93,824.98 399.97,822.62 406.70,820.20 C413.43,817.78 419.27,814.95 425.40,812.00 C431.53,809.05 438.15,805.52 443.50,802.50 C448.85,799.48 453.12,796.42 457.50,793.90 C461.88,791.38 465.42,789.38 469.80,787.40 C474.18,785.42 479.13,783.60 483.80,782.00 C488.47,780.40 493.13,778.93 497.80,777.80 C502.47,776.67 507.13,775.82 511.80,775.20 C516.47,774.58 521.42,774.10 525.80,774.10 C530.18,774.10 533.72,774.67 538.10,775.20 C542.48,775.73 547.62,776.70 552.10,777.30 C556.58,777.90 560.45,778.37 565.00,778.80 C569.55,779.23 574.43,779.53 579.40,779.90 C584.37,780.27 589.27,781.02 594.80,781.00 C600.33,780.98 606.65,780.10 612.60,779.80 C618.55,779.50 624.10,779.52 630.50,779.20 C636.90,778.88 647.58,778.12 651.00,777.90" fill="none" stroke="#b65866" stroke-width="1.1" stroke-linejoin="round"/>
<path d="M37.60,802.30 L51.56,803.80 L65.52,804.80 L79.48,806.00 L93.44,808.40 L107.40,809.60 L121.35,811.30 L135.31,812.40 L149.27,813.90 L163.23,815.10 L177.19,816.90 L191.15,818.60 L205.11,819.70 L219.07,821.40 L233.03,823.40 L246.99,824.50 L260.95,825.10 L274.90,826.00 L288.86,825.30 L302.82,823.40 L316.78,818.80 L330.74,812.40 L344.70,803.00 L358.66,791.30 L372.62,777.70 L386.58,763.00 L400.54,747.30 L414.50,731.40 L428.45,713.90 L442.41,696.40 L456.37,679.10 L470.33,663.70 L484.29,649.90 L498.25,640.00 L512.21,632.70 L526.17,629.40 L540.13,627.30 L554.09,627.30 L568.05,627.30 L582.00,628.60 L595.96,628.60 L609.92,627.30 L623.88,625.50 L637.84,624.80 L651.80,623.00" fill="none" stroke="#b65866" stroke-width="1.1" stroke-linejoin="round"/>
<ellipse cx="37.60" cy="802.30" rx="2.6" ry="3.1" fill="#f00000" stroke="#3a0000" stroke-width="0.9"/>
<ellipse cx="51.56" cy="803.80" rx="2.6" ry="3.1" fill="#f00000" stroke="#3a0000" stroke-width="0.9"/>
<ellipse cx="65.52" cy="804.80" rx="2.6" ry="3.1" fill="#f00000" stroke="#3a0000" stroke-width="0.9"/>
<ellipse cx="79.48" cy="806.00" rx="2.6" ry="3.1" fill="#f00000" stroke="#3a0000" stroke-width="0.9"/>
<ellipse cx="93.44" cy="808.40" rx="2.6" ry="3.1" fill="#f00000" stroke="#3a0000" stroke-width="0.9"/>
<ellipse cx="107.40" cy="809.60" rx="2.6" ry="3.1" fill="#f00000" stroke="#3a0000" stroke-width="0.9"/>
<ellipse cx="121.35" cy="811.30" rx="2.6" ry="3.1" fill="#f00000" stroke="#3a0000" stroke-width="0.9"/>
<ellipse cx="135.31" cy="812.40" rx="2.6" ry="3.1" fill="#f00000" stroke="#3a0000" stroke-width="0.9"/>
<ellipse cx="149.27" cy="813.90" rx="2.6" ry="3.1" fill="#f00000" stroke="#3a0000" stroke-width="0.9"/>
<ellipse cx="163.23" cy="815.10" rx="2.6" ry="3.1" fill="#f00000" stroke="#3a0000" stroke-width="0.9"/>
<ellipse cx="177.19" cy="816.90" rx="2.6" ry="3.1" fill="#f00000" stroke="#3a0000" stroke-width="0.9"/>
<ellipse cx="191.15" cy="818.60" rx="2.6" ry="3.1" fill="#f00000" stroke="#3a0000" stroke-width="0.9"/>
<ellipse cx="205.11" cy="819.70" rx="2.6" ry="3.1" fill="#f00000" stroke="#3a0000" stroke-width="0.9"/>
<ellipse cx="219.07" cy="821.40" rx="2.6" ry="3.1" fill="#f00000" stroke="#3a0000" stroke-width="0.9"/>
<ellipse cx="233.03" cy="823.40" rx="2.6" ry="3.1" fill="#f00000" stroke="#3a0000" stroke-width="0.9"/>
<ellipse cx="246.99" cy="824.50" rx="2.6" ry="3.1" fill="#f00000" stroke="#3a0000" stroke-width="0.9"/>
<ellipse cx="260.95" cy="825.10" rx="2.6" ry="3.1" fill="#f00000" stroke="#3a0000" stroke-width="0.9"/>
<ellipse cx="274.90" cy="826.00" rx="2.6" ry="3.1" fill="#f00000" stroke="#3a0000" stroke-width="0.9"/>
<ellipse cx="288.86" cy="825.30" rx="2.6" ry="3.1" fill="#f00000" stroke="#3a0000" stroke-width="0.9"/>
<ellipse cx="302.82" cy="823.40" rx="2.6" ry="3.1" fill="#f00000" stroke="#3a0000" stroke-width="0.9"/>
<ellipse cx="316.78" cy="818.80" rx="2.6" ry="3.1" fill="#f00000" stroke="#3a0000" stroke-width="0.9"/>
<ellipse cx="330.74" cy="812.40" rx="2.6" ry="3.1" fill="#f00000" stroke="#3a0000" stroke-width="0.9"/>
<ellipse cx="344.70" cy="803.00" rx="2.6" ry="3.1" fill="#f00000" stroke="#3a0000" stroke-width="0.9"/>
<ellipse cx="358.66" cy="791.30" rx="2.6" ry="3.1" fill="#f00000" stroke="#3a0000" stroke-width="0.9"/>
<ellipse cx="372.62" cy="777.70" rx="2.6" ry="3.1" fill="#f00000" stroke="#3a0000" stroke-width="0.9"/>
<ellipse cx="386.58" cy="763.00" rx="2.6" ry="3.1" fill="#f00000" stroke="#3a0000" stroke-width="0.9"/>
<ellipse cx="400.54" cy="747.30" rx="2.6" ry="3.1" fill="#f00000" stroke="#3a0000" stroke-width="0.9"/>
<ellipse cx="414.50" cy="731.40" rx="2.6" ry="3.1" fill="#f00000" stroke="#3a0000" stroke-width="0.9"/>
<ellipse cx="428.45" cy="713.90" rx="2.6" ry="3.1" fill="#f00000" stroke="#3a0000" stroke-width="0.9"/>
<ellipse cx="442.41" cy="696.40" rx="2.6" ry="3.1" fill="#f00000" stroke="#3a0000" stroke-width="0.9"/>
<ellipse cx="456.37" cy="679.10" rx="2.6" ry="3.1" fill="#f00000" stroke="#3a0000" stroke-width="0.9"/>
<ellipse cx="470.33" cy="663.70" rx="2.6" ry="3.1" fill="#f00000" stroke="#3a0000" stroke-width="0.9"/>
<ellipse cx="484.29" cy="649.90" rx="2.6" ry="3.1" fill="#f00000" stroke="#3a0000" stroke-width="0.9"/>
<ellipse cx="498.25" cy="640.00" rx="2.6" ry="3.1" fill="#f00000" stroke="#3a0000" stroke-width="0.9"/>
<ellipse cx="512.21" cy="632.70" rx="2.6" ry="3.1" fill="#f00000" stroke="#3a0000" stroke-width="0.9"/>
<ellipse cx="526.17" cy="629.40" rx="2.6" ry="3.1" fill="#f00000" stroke="#3a0000" stroke-width="0.9"/>
<ellipse cx="540.13" cy="627.30" rx="2.6" ry="3.1" fill="#f00000" stroke="#3a0000" stroke-width="0.9"/>
<ellipse cx="554.09" cy="627.30" rx="2.6" ry="3.1" fill="#f00000" stroke="#3a0000" stroke-width="0.9"/>
<ellipse cx="568.05" cy="627.30" rx="2.6" ry="3.1" fill="#f00000" stroke="#3a0000" stroke-width="0.9"/>
<ellipse cx="582.00" cy="628.60" rx="2.6" ry="3.1" fill="#f00000" stroke="#3a0000" stroke-width="0.9"/>
<ellipse cx="595.96" cy="628.60" rx="2.6" ry="3.1" fill="#f00000" stroke="#3a0000" stroke-width="0.9"/>
<ellipse cx="609.92" cy="627.30" rx="2.6" ry="3.1" fill="#f00000" stroke="#3a0000" stroke-width="0.9"/>
<ellipse cx="623.88" cy="625.50" rx="2.6" ry="3.1" fill="#f00000" stroke="#3a0000" stroke-width="0.9"/>
<ellipse cx="637.84" cy="624.80" rx="2.6" ry="3.1" fill="#f00000" stroke="#3a0000" stroke-width="0.9"/>
<ellipse cx="651.80" cy="623.00" rx="2.6" ry="3.1" fill="#f00000" stroke="#3a0000" stroke-width="0.9"/>
<path d="M79.50,805.50 h1.3 v14.30 h-41.20 v-1.3 h39.90 z" fill="#b8b8b8" opacity="0.7"/>
<rect x="38.3" y="804" width="41.2" height="14.299999999999955" fill="#fffffa" fill-opacity="0.62" stroke="#c8c8c8" stroke-width="0.8"/>
<text x="40.5" y="814.0999999999999" font-size="9.9" textLength="37.79" lengthAdjust="spacingAndGlyphs" fill="#3a3a3a">Threshold</text>
</g>
<rect x="37.5" y="604.4" width="117.19999999999999" height="27.899999999999977" fill="#fefef6" stroke="#d8d8d0" stroke-width="0.8"/>
<text x="40.5" y="615.4" font-size="9.9" textLength="113.97" lengthAdjust="spacingAndGlyphs" fill="#4a4a4a">Cycling A.Green - No Markers</text>
<text x="40.5" y="628.1999999999999" font-size="9.9" textLength="99.49" lengthAdjust="spacingAndGlyphs" fill="#4a4a4a">Cycling A.Yellow - Circles</text>
<line x1="37.6" y1="604.4" x2="658.3" y2="604.4" stroke="#3c3c3c" stroke-width="1.3"/>
<line x1="658.3" y1="604.4" x2="658.3" y2="835.0" stroke="#3c3c3c" stroke-width="1.3"/>
<line x1="37.6" y1="603.8" x2="37.6" y2="836.0" stroke="#111" stroke-width="2"/>
<line x1="36.6" y1="835.0" x2="658.9" y2="835.0" stroke="#111" stroke-width="2"/>
<rect x="0.5" y="0.5" width="684" height="891" fill="none" stroke="#000" stroke-width="1"/>
<line x1="0" y1="267.5" x2="685" y2="267.5" stroke="#111" stroke-width="1.15"/>
<line x1="0" y1="292.4" x2="685" y2="292.4" stroke="#1a1a1a" stroke-width="1.3"/>
<line x1="0" y1="572.5" x2="685" y2="572.5" stroke="#111" stroke-width="1.15"/>
<line x1="0" y1="596.0" x2="685" y2="596.0" stroke="#3a3a3a" stroke-width="1.3"/>
<rect x="8" y="866" width="677" height="1.7" fill="#ababab"/>
<line x1="0" y1="868.4" x2="685" y2="868.4" stroke="#3c3c3c" stroke-width="1.2"/>
<line x1="375.6" y1="267" x2="375.6" y2="292" stroke="#444" stroke-width="1"/>
<rect x="384.3" y="268.1" width="233.3" height="23.6" fill="none" stroke="#111" stroke-width="1.2"/>
<rect x="393" y="269" width="21" height="19" fill="#ff0000"/>
<text x="416.5" y="281.3" font-family="Liberation Sans" font-size="12" fill="#3c3c3c">s</text>
<path d="M425.9,281.3 V271.3 M425.9,271.4 C425.3,273 424.3,273.8 423.1,274.3" fill="none" stroke="#3c3c3c" stroke-width="1.35"/>
<text x="433.3" y="288.4" font-family="Liberation Serif" font-size="15.33" fill="#000">(AA)- Malignant PVT</text>
<text x="62.9" y="283" font-family="Liberation Serif" font-weight="bold" font-size="15.33" textLength="224.5" fill="#000">(A): Homozygous mutant type AA</text>
<line x1="380.6" y1="572" x2="380.6" y2="596" stroke="#222" stroke-width="1"/>
<rect x="389" y="573.2" width="20.7" height="19.1" fill="#c8c800"/>
<text x="412.2" y="585.5" font-family="Liberation Sans" font-size="14.2" fill="#3c3c3c">3</text>
<text x="423" y="592.3" font-family="Liberation Serif" font-size="15.33" fill="#000">(TA) Malignant PVT</text>
<text x="62.9" y="587.2" font-family="Liberation Serif" font-weight="bold" font-size="15.33" textLength="181.5" fill="#000">(B): Heterozygous Type TA</text>
<line x1="380.6" y1="868" x2="380.6" y2="891" stroke="#222" stroke-width="1"/>
<rect x="389" y="868.8" width="20.5" height="19.2" fill="#ff0000"/>
<text x="412.4" y="881.1" font-family="Liberation Sans" font-size="12" fill="#3c3c3c">s<tspan font-size="14.2" dx="-0.3">5</tspan></text>
<text x="429.4" y="887.6" font-family="Liberation Serif" font-size="15.33" fill="#000">( TT)- CLD without PVT</text>
<text x="63.9" y="883" font-family="Liberation Serif" font-weight="bold" font-size="15.33" fill="#000">(C): Homozygous wild type TT</text>
</svg>
</body></html>
